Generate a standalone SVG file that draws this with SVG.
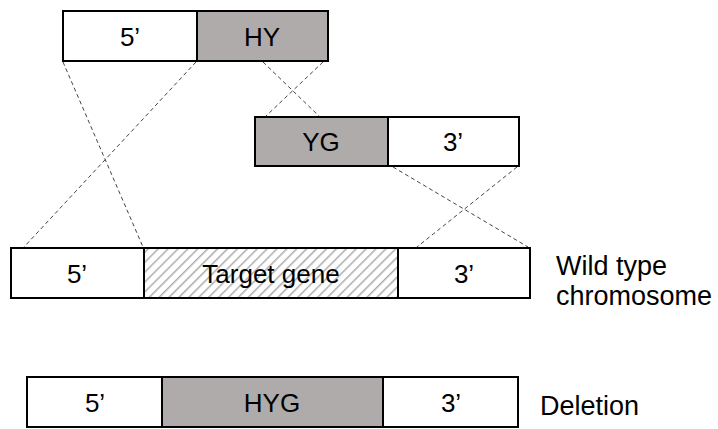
<svg xmlns="http://www.w3.org/2000/svg" width="718" height="429" viewBox="0 0 718 429">
  <style>
    .box { stroke: #000; stroke-width: 2; }
    .white { fill: #fff; }
    .gray { fill: #afabaa; }
    .lbl { font-family: "Liberation Sans", Arial, sans-serif; font-size: 26px; fill: #000; text-anchor: middle; }
    .side { font-family: "Liberation Sans", Arial, sans-serif; font-size: 27px; fill: #000; }
    .dash { stroke: #444; stroke-width: 1; stroke-dasharray: 4 3; fill: none; }
  </style>
  <defs>
    <pattern id="hatch" patternUnits="userSpaceOnUse" width="7" height="7" patternTransform="rotate(45)">
      <rect width="7" height="7" fill="#fff"/>
      <line x1="0" y1="0" x2="0" y2="7" stroke="#acacac" stroke-width="3"/>
    </pattern>
  </defs>

  <rect width="718" height="429" fill="#fff"/>

  <!-- crossover connectors -->
  <g id="connectors">
    <line class="dash" x1="63" y1="62" x2="143" y2="247"/>
    <line class="dash" x1="196" y1="62" x2="24" y2="247"/>
    <line class="dash" x1="263" y1="62" x2="320" y2="117"/>
    <line class="dash" x1="323" y1="62" x2="265" y2="117"/>
    <line class="dash" x1="393" y1="167" x2="528" y2="247"/>
    <line class="dash" x1="517" y1="167" x2="417" y2="247"/>
  </g>

  <!-- 5' flank + HY fragment -->
  <g id="hy-construct">
    <rect class="box white" x="63" y="11" width="134" height="50"/>
    <rect class="box gray" x="197" y="11" width="131" height="50"/>
    <text class="lbl" x="130" y="46">5’</text>
    <text class="lbl" x="262" y="46">HY</text>
  </g>

  <!-- YG fragment + 3' flank -->
  <g id="yg-construct">
    <rect class="box gray" x="255" y="117" width="133" height="49"/>
    <rect class="box white" x="388" y="117" width="131" height="49"/>
    <text class="lbl" x="321" y="151">YG</text>
    <text class="lbl" x="453" y="151">3’</text>
  </g>

  <!-- wild type locus -->
  <g id="wild-type">
    <rect class="box white" x="11" y="248" width="133" height="50"/>
    <rect class="box" fill="url(#hatch)" x="144" y="248" width="254" height="50"/>
    <rect class="box white" x="398" y="248" width="132" height="50"/>
    <text class="lbl" x="77" y="283">5’</text>
    <text class="lbl" x="271" y="283">Target gene</text>
    <text class="lbl" x="464" y="283">3’</text>
    <text class="side" x="556" y="275">Wild type</text>
    <text class="side" x="556" y="305">chromosome</text>
  </g>

  <!-- deletion locus -->
  <g id="deletion">
    <rect class="box white" x="27" y="377" width="135" height="50"/>
    <rect class="box gray" x="162" y="377" width="221" height="50"/>
    <rect class="box white" x="383" y="377" width="135" height="50"/>
    <text class="lbl" x="95" y="412">5’</text>
    <text class="lbl" x="272" y="412">HYG</text>
    <text class="lbl" x="451" y="412">3’</text>
    <text class="side" x="540" y="415">Deletion</text>
  </g>
</svg>
